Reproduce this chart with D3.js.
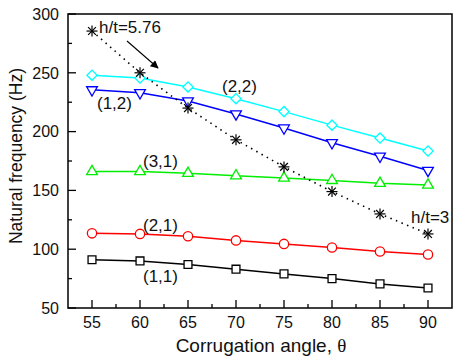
<!DOCTYPE html>
<html>
<head>
<meta charset="utf-8">
<script src="https://d3js.org/d3.v7.min.js"></script>
<style>
  body { margin: 0; background: #fff; }
  text { font-family: "Liberation Sans", Arial, sans-serif; fill: #111; }
</style>
</head>
<body>
<script>
// chart data
let angles = [55, 60, 65, 70, 75, 80, 85, 90];
let mode11 = [91, 90, 87, 83, 79, 75, 70.5, 67];
let mode21 = [113.5, 113, 111, 107.5, 104.5, 101.5, 98, 95.5];
let mode31 = [166, 166, 164.5, 162.5, 160.5, 158.5, 156, 154.5];
let mode12 = [235.5, 233, 226, 215, 203, 190.5, 179, 167];
let mode22 = [248, 245.5, 238, 228, 217, 205.5, 194.5, 183.5];
let hOverT = [285.5, 250, 220, 193, 170, 149, 130, 113];
let yTicks = [50, 100, 150, 200, 250, 300];

let width = 454, height = 363;
let plotLeft = 68, plotRight = 452, plotTop = 14, plotBottom = 308;

let svg = d3.select('body').append('svg')
    .attr('width', width)
    .attr('height', height);

let x = d3.scaleLinear().domain([52.5, 92.5]).range([plotLeft, plotRight]);
let y = d3.scaleLinear().domain([50, 300]).range([plotBottom, plotTop]);

// frame
svg.append('rect')
    .attr('x', plotLeft).attr('y', plotTop)
    .attr('width', plotRight - plotLeft).attr('height', plotBottom - plotTop)
    .attr('fill', 'none').attr('stroke', '#000').attr('stroke-width', 1.5);

// y axis ticks (inward)
let yAxis = svg.append('g').attr('transform', 'translate(' + plotLeft + ',0)');
d3.range(50, 301, 25).forEach(function (v) {
    let major = v % 50 === 0;
    yAxis.append('line')
        .attr('x1', 0).attr('x2', major ? 8 : 4)
        .attr('y1', y(v)).attr('y2', y(v))
        .attr('stroke', '#000').attr('stroke-width', 1.3);
});
yTicks.forEach(function (v) {
    yAxis.append('text')
        .attr('x', -9).attr('y', y(v))
        .attr('dy', '0.36em')
        .attr('text-anchor', 'end')
        .attr('font-size', 16)
        .text(v);
});

// x axis ticks (inward)
let xAxis = svg.append('g').attr('transform', 'translate(0,' + plotBottom + ')');
d3.range(55, 90.1, 2.5).forEach(function (v) {
    let major = v % 5 === 0;
    xAxis.append('line')
        .attr('x1', x(v)).attr('x2', x(v))
        .attr('y1', 0).attr('y2', major ? -8 : -4)
        .attr('stroke', '#000').attr('stroke-width', 1.3);
});
angles.forEach(function (v) {
    xAxis.append('text')
        .attr('x', x(v)).attr('y', 20)
        .attr('text-anchor', 'middle')
        .attr('font-size', 16)
        .text(v);
});

// axis titles
let xTitle = svg.append('text')
    .attr('x', 261).attr('y', 352)
    .attr('text-anchor', 'middle')
    .attr('font-size', 19)
    .text('Corrugation angle, ');
xTitle.append('tspan')
    .attr('font-family', '"Liberation Serif", serif')
    .text('θ');
svg.append('text')
    .attr('transform', 'translate(22,156) rotate(-90)')
    .attr('text-anchor', 'middle')
    .attr('font-size', 17.5)
    .text('Natural frequency (Hz)');

let line = d3.line()
    .x(function (d, i) { return x(angles[i]); })
    .y(function (d) { return y(d); });

let series = [
    { values: mode11, color: '#000000', symbol: d3.symbolSquare, size: 62, rot: 0 },
    { values: mode21, color: '#ff0000', symbol: d3.symbolCircle, size: 68, rot: 0 },
    { values: mode31, color: '#00ee00', symbol: d3.symbolTriangle, size: 50, rot: 0 },
    { values: mode12, color: '#0000ff', symbol: d3.symbolTriangle, size: 50, rot: 180 },
    { values: mode22, color: '#00ffff', symbol: d3.symbolSquare, size: 52, rot: 45 }
];

series.forEach(function (s) {
    svg.append('path')
        .attr('d', line(s.values))
        .attr('fill', 'none')
        .attr('stroke', s.color)
        .attr('stroke-width', 1.5);
    svg.selectAll(null)
        .data(s.values)
        .enter()
        .append('path')
            .attr('d', d3.symbol().type(s.symbol).size(s.size))
            .attr('transform', function (d, i) {
                return 'translate(' + x(angles[i]) + ',' + y(d) + ') rotate(' + s.rot + ')';
            })
            .attr('fill', '#fff')
            .attr('stroke', s.color)
            .attr('stroke-width', 1.3);
});

// h/t dotted series with star markers
svg.append('path')
    .attr('d', line(hOverT))
    .attr('fill', 'none')
    .attr('stroke', '#000')
    .attr('stroke-width', 1.6)
    .attr('stroke-dasharray', '1.5,4.5');
let stars = svg.selectAll('.star')
    .data(hOverT)
    .enter()
    .append('g')
        .attr('transform', function (d, i) {
            return 'translate(' + x(angles[i]) + ',' + y(d) + ')';
        });
[0, 45, 90, 135].forEach(function (a) {
    stars.append('line')
        .attr('x1', -5.5).attr('x2', 5.5)
        .attr('y1', 0).attr('y2', 0)
        .attr('transform', 'rotate(' + a + ')')
        .attr('stroke', '#000').attr('stroke-width', 1.2);
});

// annotations
let labels = [
    { t: 'h/t=5.76', x: 99, y: 33 },
    { t: '(2,2)', x: 222, y: 92 },
    { t: '(1,2)', x: 97, y: 109 },
    { t: '(3,1)', x: 143, y: 167 },
    { t: '(2,1)', x: 143, y: 231 },
    { t: '(1,1)', x: 143, y: 282 },
    { t: 'h/t=3', x: 411, y: 223 }
];
labels.forEach(function (l) {
    svg.append('text')
        .attr('x', l.x).attr('y', l.y)
        .attr('font-size', 17)
        .text(l.t);
});

// arrow
svg.append('defs').append('marker')
    .attr('id', 'head')
    .attr('viewBox', '0 0 10 10')
    .attr('refX', 9).attr('refY', 5)
    .attr('markerWidth', 10).attr('markerHeight', 8)
    .attr('markerUnits', 'userSpaceOnUse')
    .attr('orient', 'auto')
    .append('path')
        .attr('d', 'M0,0 L10,5 L0,10 Z')
        .attr('fill', '#000');
svg.append('line')
    .attr('x1', 127).attr('y1', 41)
    .attr('x2', 158).attr('y2', 68)
    .attr('stroke', '#000').attr('stroke-width', 1.1)
    .attr('marker-end', 'url(#head)');
</script>
</body>
</html>
